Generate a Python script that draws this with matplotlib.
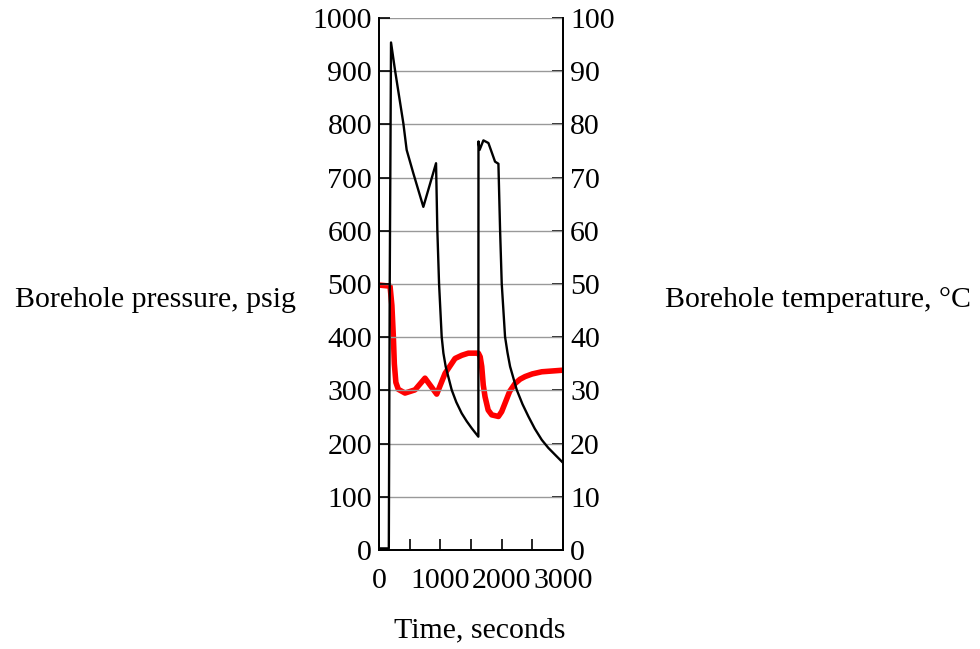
import matplotlib.pyplot as plt
import numpy as np

plt.rcParams['font.family'] = ['Liberation Serif', 'DejaVu Serif']

# pressure trace (left axis, psig)
p_time = [0, 160, 175, 196, 261, 397, 451, 560, 723, 930, 951, 979, 1022,
          1050, 1087, 1185, 1260, 1348, 1430, 1511, 1620, 1622, 1640, 1702,
          1784, 1892, 1947, 1974, 2001, 2055, 2095, 2137, 2246, 2340, 2436,
          2540, 2654, 2760, 2871, 3000]
pressure = [3, 3, 500, 954, 902, 802, 752, 708, 645, 727, 602, 501, 401,
            370, 345, 301, 278, 257, 242, 229, 213, 768, 752, 770,
            765, 730, 726, 602, 501, 401, 371, 345, 301, 274, 251,
            228, 207, 192, 179, 164]

# temperature trace (right axis, deg C)
t_time = [0, 180, 210, 234, 250, 275, 315, 424, 587, 750, 941, 1077, 1240,
          1350, 1457, 1620, 1650, 1675, 1700, 1729, 1780, 1838, 1947, 2000,
          2055, 2130, 2219, 2300, 2382, 2500, 2654, 3000]
temperature = [49.8, 49.6, 46.0, 40.1, 35.0, 31.5, 30.2, 29.5, 30.1, 32.3,
               29.3, 33.2, 36.0, 36.6, 37.0, 37.0, 36.3, 34.5, 31.0, 28.8,
               26.3, 25.4, 25.1, 26.0, 27.6, 29.8, 31.3, 32.1, 32.6, 33.1,
               33.5, 33.8]

fig = plt.figure(figsize=(9.8, 6.49), dpi=100)
ax = fig.add_axes([379 / 980, 99 / 649, 184 / 980, 532 / 649])
ax2 = ax.twinx()

ax.set_xlim(0, 3000)
ax.set_ylim(0, 1000)
ax2.set_ylim(0, 100)

ax.set_yticks(np.arange(0, 1001, 100))
ax2.set_yticks(np.arange(0, 101, 10))
ax.set_xticks(np.arange(0, 3001, 500))
ax.set_xticklabels(['0', '', '1000', '', '2000', '', '3000'])

ax.grid(axis='y', color='#999999', linewidth=1)
ax.set_axisbelow(True)

ax.plot(p_time, pressure, color='black', linewidth=1.7, zorder=3)
ax2.plot(t_time, temperature, color='red', linewidth=4, zorder=2,
         solid_joinstyle='round')
ax.set_zorder(ax2.get_zorder() + 1)
ax.patch.set_visible(False)

for a in (ax, ax2):
    a.spines['top'].set_visible(False)
    a.tick_params(direction='in', length=8, width=1.2, labelsize=21.5,
                  pad=5, color='black')
    for s in ('left', 'right', 'bottom'):
        a.spines[s].set_linewidth(1.3)
ax.tick_params(axis='x', pad=13)

fig.text(155 / 980, 1 - 300 / 649, 'Borehole pressure, psig', fontsize=21.5,
         ha='center', va='center')
fig.text(818 / 980, 1 - 300 / 649, 'Borehole temperature, °C', fontsize=21.5,
         ha='center', va='center')
fig.text(480 / 980, 1 - 630 / 649, 'Time, seconds', fontsize=21.5,
         ha='center', va='center')

fig.savefig('out.png', dpi=100)
